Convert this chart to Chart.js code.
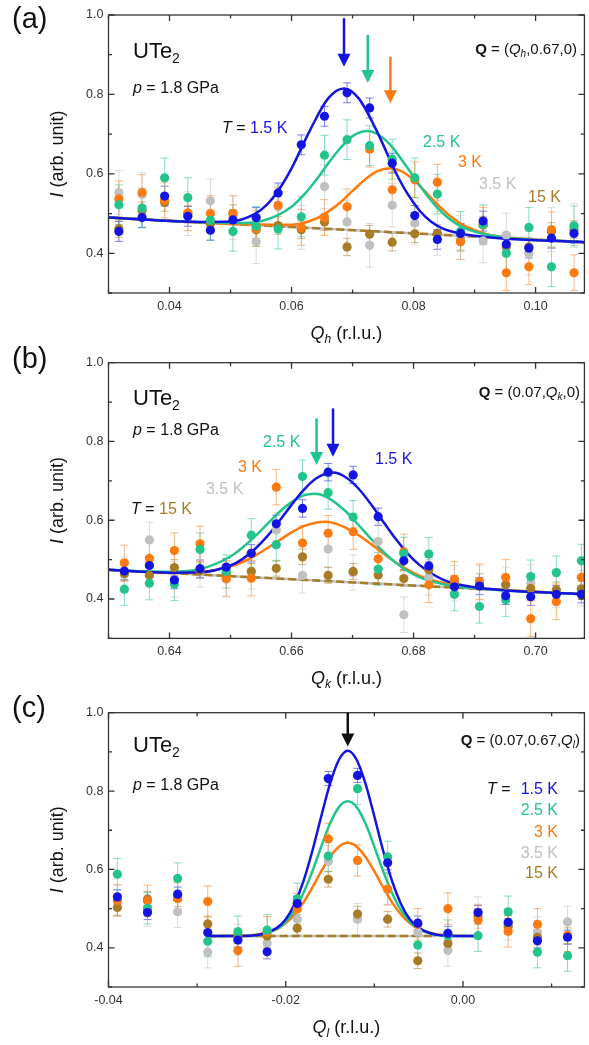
<!DOCTYPE html>
<html>
<head>
<meta charset="utf-8">
<script src="https://cdn.jsdelivr.net/npm/chart.js@4.4.0/dist/chart.umd.min.js"></script>
<style>
  html, body { margin: 0; padding: 0; background: #fff; }
  #wrap { position: relative; width: 589px; height: 1045px; }
  canvas { position: absolute; left: 0; }
</style>
</head>
<body>
<div id="wrap">
  <canvas id="chart-a" width="589" height="350" style="top:0px"></canvas>
  <canvas id="chart-b" width="589" height="352" style="top:340px"></canvas>
  <canvas id="chart-c" width="589" height="355" style="top:690px"></canvas>
</div>
<script>
/* ── series: 1.5 K, 2.5 K, 3 K, 3.5 K, 15 K ── */
const TEMPS  = ['1.5 K', '2.5 K', '3 K', '3.5 K', '15 K'];
const COLORS = ['#1414e2', '#22c48a', '#ff7a0e', '#c0c0c0', '#a87c24'];
const FONT   = '"Liberation Sans", Arial, sans-serif';

/* ── panel (a): Q = (Qh, 0.67, 0) ── */
const qhA     = [0.0317,0.0355,0.0392,0.0430,0.0467,0.0504,0.0542,0.0578,0.0616,0.0654,0.0691,0.0728,0.0765,0.0802,0.0839,0.0877,0.0914,0.0952,0.0989,0.1026,0.1063];
const blueA   = [0.455,0.490,0.544,0.493,0.458,0.484,0.490,0.552,0.673,0.745,0.804,0.766,0.627,0.495,0.435,0.450,0.481,0.423,0.413,0.438,0.450];
const greenA  = [0.522,0.514,0.590,0.540,0.483,0.455,0.468,0.461,0.492,0.647,0.686,0.671,0.637,0.590,0.549,0.455,0.472,0.400,0.465,0.366,0.469];
const orangeA = [0.537,0.553,0.534,0.502,0.500,0.500,0.462,0.521,0.465,0.490,0.517,0.662,0.560,0.585,0.579,0.429,0.471,0.351,0.366,0.459,0.351];
const greyA   = [0.553,0.548,0.534,0.500,0.532,0.490,0.429,0.517,0.465,0.568,0.479,0.420,0.521,0.476,0.450,0.440,0.431,0.446,0.400,0.460,0.470];
const brownA  = [0.462,0.507,0.528,0.498,0.474,0.500,0.459,0.470,0.459,0.479,0.416,0.448,0.428,0.449,0.450,0.430,0.471,0.416,0.416,0.455,0.460];
const errA    = [0.025, 0.050, 0.045, 0.055, 0.022];

const fitBlueAx   = [0.030,0.045,0.050,0.054,0.056,0.058,0.060,0.063,0.066,0.0686,0.071,0.074,0.077,0.079,0.081,0.083,0.085,0.090,0.108];
const fitBlueAy   = [0.490,0.479,0.480,0.499,0.523,0.562,0.614,0.709,0.790,0.815,0.790,0.707,0.606,0.550,0.507,0.478,0.461,0.444,0.428];
const fitGreenAx  = [0.030,0.045,0.052,0.056,0.060,0.062,0.064,0.066,0.068,0.070,0.0725,0.074,0.076,0.078,0.080,0.082,0.084,0.086,0.088,0.093,0.108];
const fitGreenAy  = [0.490,0.478,0.476,0.485,0.517,0.547,0.584,0.626,0.665,0.695,0.708,0.701,0.676,0.637,0.593,0.550,0.513,0.485,0.466,0.444,0.428];
const fitOrangeAx = [0.030,0.050,0.060,0.064,0.066,0.068,0.070,0.072,0.074,0.0762,0.078,0.080,0.082,0.084,0.086,0.088,0.092,0.096,0.108];
const fitOrangeAy = [0.490,0.474,0.472,0.487,0.505,0.528,0.557,0.585,0.606,0.614,0.607,0.585,0.554,0.522,0.494,0.472,0.448,0.439,0.428];
const fitBaseAx   = [0.030, 0.108];
const fitBaseAy   = [0.490, 0.428];

/* ── panel (b): Q = (0.07, Qk, 0) ── */
const qkB     = [0.6326,0.6367,0.6408,0.6450,0.6493,0.6534,0.6575,0.6618,0.6660,0.6701,0.6742,0.6784,0.6825,0.6867,0.6908,0.6951,0.6992,0.7034,0.7075];
const blueB   = [0.471,0.485,0.448,0.477,0.481,0.516,0.591,0.630,0.722,0.715,0.609,0.497,0.484,0.431,0.433,0.408,0.406,0.412,0.412];
const greenB  = [0.425,0.440,0.438,0.526,0.470,0.562,0.538,0.711,0.670,0.608,0.476,0.515,0.514,0.412,0.381,0.398,0.457,0.467,0.497];
const orangeB = [0.492,0.503,0.523,0.540,0.452,0.453,0.684,0.542,0.567,0.571,0.502,0.520,0.436,0.450,0.444,0.455,0.350,0.393,0.455];
const greyB   = [0.462,0.550,0.450,0.475,0.450,0.470,0.575,0.460,0.527,0.467,0.546,0.360,0.455,0.440,0.440,0.436,0.442,0.423,0.427];
const brownB  = [0.465,0.460,0.480,0.472,0.465,0.470,0.478,0.507,0.460,0.470,0.461,0.452,0.474,0.440,0.444,0.436,0.427,0.423,0.425];
const errB    = [0.022, 0.042, 0.045, 0.045, 0.020];

const fitBlueBx   = [0.630,0.640,0.645,0.650,0.652,0.654,0.656,0.658,0.660,0.662,0.664,0.6668,0.669,0.671,0.673,0.675,0.677,0.679,0.681,0.683,0.685,0.687,0.692,0.708];
const fitBlueBy   = [0.474,0.467,0.468,0.485,0.502,0.527,0.559,0.598,0.639,0.677,0.706,0.721,0.708,0.680,0.641,0.597,0.554,0.516,0.486,0.464,0.448,0.438,0.426,0.412];
const fitGreenBx  = [0.630,0.640,0.645,0.650,0.652,0.654,0.656,0.658,0.660,0.662,0.6638,0.666,0.669,0.671,0.673,0.675,0.677,0.679,0.681,0.686,0.692,0.708];
const fitGreenBy  = [0.474,0.469,0.476,0.508,0.531,0.559,0.590,0.621,0.646,0.663,0.667,0.657,0.621,0.588,0.553,0.521,0.493,0.471,0.455,0.434,0.425,0.412];
const fitOrangeBx = [0.630,0.640,0.645,0.650,0.652,0.654,0.656,0.658,0.660,0.662,0.6656,0.668,0.671,0.673,0.675,0.677,0.679,0.681,0.683,0.688,0.695,0.708];
const fitOrangeBy = [0.474,0.467,0.468,0.483,0.494,0.510,0.529,0.549,0.569,0.585,0.596,0.587,0.562,0.540,0.516,0.494,0.475,0.459,0.448,0.432,0.423,0.412];
const fitBaseBx   = [0.630, 0.708];
const fitBaseBy   = [0.474, 0.412];

/* ── panel (c): Q = (0.07, 0.67, Ql) ── */
const qlC     = [-0.0390,-0.0356,-0.0322,-0.0288,-0.0254,-0.0221,-0.0187,-0.0152,-0.0119,-0.0085,-0.0051,-0.0017,0.0017,0.0051,0.0084,0.0118];
const blueC   = [0.530,0.490,0.537,0.439,0.420,0.390,0.513,0.832,0.840,0.617,0.463,0.437,0.490,0.465,0.418,0.427];
const greenC  = [0.588,0.501,0.577,0.417,0.441,0.445,0.525,0.634,0.806,0.632,0.407,0.431,0.431,0.492,0.389,0.380];
const orangeC = [0.521,0.520,0.526,0.518,0.393,0.440,0.499,0.678,0.623,0.550,0.460,0.500,0.471,0.442,0.460,0.431];
const greyC   = [0.520,0.495,0.492,0.389,0.420,0.412,0.473,0.621,0.473,0.549,0.440,0.393,0.490,0.460,0.439,0.466];
const brownC  = [0.503,0.524,0.526,0.461,0.430,0.430,0.450,0.575,0.486,0.473,0.367,0.411,0.480,0.455,0.427,0.431];
const errC    = [0.018, 0.040, 0.040, 0.040, 0.020];

const fitCx       = [-0.0288,-0.024,-0.021,-0.020,-0.019,-0.018,-0.017,-0.016,-0.015,-0.014,-0.013,-0.012,-0.011,-0.010,-0.009,-0.008,-0.007,-0.006,-0.005,-0.002,0.0017];
const fitBlueCy   = [0.430,0.431,0.451,0.473,0.512,0.570,0.647,0.735,0.819,0.880,0.903,0.880,0.819,0.735,0.647,0.570,0.512,0.473,0.451,0.431,0.430];
const fitGreenCy  = [0.430,0.431,0.448,0.467,0.496,0.540,0.595,0.658,0.717,0.759,0.774,0.759,0.717,0.658,0.595,0.540,0.496,0.467,0.448,0.431,0.430];
const fitOrangeCy = [0.430,0.432,0.448,0.463,0.485,0.516,0.554,0.595,0.632,0.658,0.668,0.658,0.632,0.595,0.554,0.516,0.485,0.463,0.448,0.432,0.430];
const fitBaseCx   = [-0.0288, -0.003];
const fitBaseCy   = [0.430, 0.430];

/* ── helpers ── */
function rgba(hex, a) {
    const n = parseInt(hex.slice(1), 16);
    return `rgba(${n >> 16},${(n >> 8) & 255},${n & 255},${a})`;
}
function pts(xs, ys) { return xs.map((x, i) => ({ x, y: ys[i] })); }

// draws a run of differently styled pieces: [text, font, color, dy]
function rich(ctx, x, y, parts, align) {
    let w = 0;
    parts.forEach(p => { ctx.font = p[1]; w += ctx.measureText(p[0]).width; });
    let cx = align === 'right' ? x - w : align === 'center' ? x - w / 2 : x;
    ctx.textAlign = 'left';
    ctx.textBaseline = 'alphabetic';
    parts.forEach(p => {
        ctx.font = p[1];
        ctx.fillStyle = p[2];
        ctx.fillText(p[0], cx, y + (p[3] || 0));
        cx += ctx.measureText(p[0]).width;
    });
}
const f  = (s, st) => `${st || ''} ${s}px ${FONT}`;
const K  = '#111';

const errorBars = {
    id: 'errorBars',
    beforeDatasetsDraw(chart) {
        const ctx = chart.ctx, ys = chart.scales.y;
        chart.data.datasets.forEach((ds, i) => {
            if (ds.err == null) return;
            const meta = chart.getDatasetMeta(i);
            ctx.save();
            ctx.strokeStyle = rgba(ds.baseColor, 0.55);
            ctx.lineWidth = 1;
            meta.data.forEach((el, j) => {
                const v = ds.data[j].y;
                const t = ys.getPixelForValue(v + ds.err), b = ys.getPixelForValue(v - ds.err);
                ctx.beginPath();
                ctx.moveTo(el.x, t); ctx.lineTo(el.x, b);
                ctx.moveTo(el.x - 4, t); ctx.lineTo(el.x + 4, t);
                ctx.moveTo(el.x - 4, b); ctx.lineTo(el.x + 4, b);
                ctx.stroke();
            });
            ctx.restore();
        });
    }
};

const frameTicks = {
    id: 'frameTicks',
    afterDatasetsDraw(chart) {
        const ctx = chart.ctx, a = chart.chartArea;
        const xs = chart.scales.x, ys = chart.scales.y;
        ctx.save();
        ctx.strokeStyle = '#333';
        ctx.lineWidth = 1.3;
        ctx.strokeRect(a.left, a.top, a.right - a.left, a.bottom - a.top);
        ctx.beginPath();
        xs.ticks.forEach(t => {
            const px = xs.getPixelForValue(t.value);
            const L = t.label ? 6 : 3.5;
            ctx.moveTo(px, a.bottom); ctx.lineTo(px, a.bottom - L);
            ctx.moveTo(px, a.top); ctx.lineTo(px, a.top + L);
        });
        ys.ticks.forEach(t => {
            const py = ys.getPixelForValue(t.value);
            const L = t.label ? 6 : 3.5;
            ctx.moveTo(a.left, py); ctx.lineTo(a.left + L, py);
            ctx.moveTo(a.right, py); ctx.lineTo(a.right - L, py);
        });
        ctx.stroke();
        ctx.restore();
    }
};

function arrowsPlugin(list) {
    return {
        id: 'arrows',
        afterDatasetsDraw(chart) {
            const ctx = chart.ctx, xs = chart.scales.x, ys = chart.scales.y;
            list.forEach(ar => {
                const px = xs.getPixelForValue(ar.x);
                const top = ys.getPixelForValue(ar.top), tip = ys.getPixelForValue(ar.tip);
                ctx.save();
                ctx.strokeStyle = ar.color; ctx.fillStyle = ar.color;
                ctx.lineWidth = 2.5;
                ctx.beginPath(); ctx.moveTo(px, top); ctx.lineTo(px, tip - 10); ctx.stroke();
                ctx.beginPath();
                ctx.moveTo(px - 6.5, tip - 13); ctx.lineTo(px + 6.5, tip - 13); ctx.lineTo(px, tip);
                ctx.closePath(); ctx.fill();
                ctx.restore();
            });
        }
    };
}

function textPlugin(draw) {
    return { id: 'texts', afterDraw(chart) { const ctx = chart.ctx; ctx.save(); draw(ctx, chart); ctx.restore(); } };
}

function axisTitles(ctx, chart, sub) {
    const a = chart.chartArea;
    ctx.save();
    ctx.translate(63, (a.top + a.bottom) / 2 + 0);
    ctx.rotate(-Math.PI / 2);
    rich(ctx, 0, 0, [['I', f(18, 'italic'), K], [' (arb. unit)', f(18), K]], 'center');
    ctx.restore();
    rich(ctx, (a.left + a.right) / 2, a.bottom + 46,
        [['Q', f(18, 'italic'), K], [sub, f(12, 'italic'), K, 4], [' (r.l.u.)', f(18), K]], 'center');
}

function makePanel(id, p) {
    const vals = [p.blue, p.green, p.orange, p.grey, p.brown];
    const drawOrder = [1, 2, 3, 5, 4];
    const datasets = vals.map((v, i) => ({
        data: pts(p.q, v),
        err: p.err[i],
        baseColor: COLORS[i],
        backgroundColor: COLORS[i],
        borderWidth: 0,
        pointRadius: 4.6,
        order: drawOrder[i],
    }));
    const lineDs = (xs, ys, color, ord, dash) => ({
        data: pts(xs, ys),
        showLine: true,
        borderColor: color,
        borderWidth: 2.5,
        borderDash: dash || [],
        pointRadius: 0,
        cubicInterpolationMode: 'monotone',
        order: ord,
    });
    datasets.push(lineDs(p.fitBlue[0],   p.fitBlue[1],   COLORS[0], 6));
    datasets.push(lineDs(p.fitGreen[0],  p.fitGreen[1],  COLORS[1], 7));
    datasets.push(lineDs(p.fitOrange[0], p.fitOrange[1], COLORS[2], 8));
    datasets.push(lineDs(p.fitBase[0],   p.fitBase[1],   COLORS[4], 9, [8, 4]));
    datasets.push(lineDs(p.fitBase[0],   p.fitBase[1],   COLORS[3], 10));

    const H = document.getElementById(id).height;
    return new Chart(document.getElementById(id), {
        type: 'scatter',
        data: { datasets },
        options: {
            responsive: false,
            animation: false,
            layout: { padding: { top: p.frameTop, right: 4, left: 0, bottom: 0 } },
            plugins: { legend: { display: false }, tooltip: { enabled: false } },
            scales: {
                x: {
                    min: p.xMin, max: p.xMax,
                    grid: { display: false, drawTicks: false },
                    border: { display: false },
                    ticks: {
                        stepSize: 0.01, includeBounds: false, autoSkip: false, maxRotation: 0,
                        padding: 6, color: '#333', font: { family: FONT, size: 12.5 },
                        callback: v => { const k = Math.round(v * 100); return k % 2 === 0 ? (k / 100).toFixed(2) : ''; }
                    },
                    afterFit: s => { s.height = H - p.frameBottom; }
                },
                y: {
                    min: 0.3, max: 1.0,
                    grid: { display: false, drawTicks: false },
                    border: { display: false },
                    ticks: {
                        stepSize: 0.1, autoSkip: false, padding: 5, color: '#333',
                        font: { family: FONT, size: 12.5 },
                        callback: v => { const k = Math.round(v * 10); return (k % 2 === 0 && k >= 4) ? (k / 10).toFixed(1) : ''; }
                    },
                    afterFit: s => { s.width = 108.5; }
                }
            }
        },
        plugins: [errorBars, frameTicks, arrowsPlugin(p.arrows), textPlugin(p.texts)]
    });
}

function header(ctx, letter, yLetter, yUte, yP) {
    rich(ctx, 12, yLetter, [[letter, f(29), K]]);
    rich(ctx, 133, yUte, [['UTe', f(22), K], ['2', f(14), K, 5]]);
    rich(ctx, 133, yP, [['p', f(16, 'italic'), K], [' = 1.8 GPa', f(16), K]]);
}

makePanel('chart-a', {
    q: qhA, blue: blueA, green: greenA, orange: orangeA, grey: greyA, brown: brownA, err: errA,
    fitBlue: [fitBlueAx, fitBlueAy], fitGreen: [fitGreenAx, fitGreenAy],
    fitOrange: [fitOrangeAx, fitOrangeAy], fitBase: [fitBaseAx, fitBaseAy],
    xMin: 0.030, xMax: 0.108, frameTop: 15, frameBottom: 293,
    arrows: [
        { x: 0.0686, top: 0.992, tip: 0.870, color: COLORS[0] },
        { x: 0.0725, top: 0.950, tip: 0.829, color: COLORS[1] },
        { x: 0.0762, top: 0.895, tip: 0.778, color: COLORS[2] },
    ],
    texts: (ctx, chart) => {
        header(ctx, '(a)', 28, 58, 93);
        rich(ctx, 577, 54, [['Q', f(15, 'bold'), K], [' = (', f(15), K], ['Q', f(15, 'italic'), K],
            ['h', f(10, 'italic'), K, 3], [',0.67,0)', f(15), K]], 'right');
        rich(ctx, 222, 133, [['T', f(16, 'italic'), K], [' = ', f(16), K], [TEMPS[0], f(16), COLORS[0]]]);
        rich(ctx, 423, 147, [[TEMPS[1], f(16), COLORS[1]]]);
        rich(ctx, 458, 167, [[TEMPS[2], f(16), COLORS[2]]]);
        rich(ctx, 479, 189, [[TEMPS[3], f(16), COLORS[3]]]);
        rich(ctx, 528, 202, [[TEMPS[4], f(16), COLORS[4]]]);
        axisTitles(ctx, chart, 'h');
    }
});

makePanel('chart-b', {
    q: qkB, blue: blueB, green: greenB, orange: orangeB, grey: greyB, brown: brownB, err: errB,
    fitBlue: [fitBlueBx, fitBlueBy], fitGreen: [fitGreenBx, fitGreenBy],
    fitOrange: [fitOrangeBx, fitOrangeBy], fitBase: [fitBaseBx, fitBaseBy],
    xMin: 0.630, xMax: 0.708, frameTop: 22.7, frameBottom: 298.4,
    arrows: [
        { x: 0.6641, top: 0.859, tip: 0.740, color: COLORS[1] },
        { x: 0.6668, top: 0.884, tip: 0.761, color: COLORS[0] },
    ],
    texts: (ctx, chart) => {
        header(ctx, '(b)', 28, 65, 95);
        rich(ctx, 580, 57, [['Q', f(15, 'bold'), K], [' = (0.07,', f(15), K], ['Q', f(15, 'italic'), K],
            ['k', f(10, 'italic'), K, 3], [',0)', f(15), K]], 'right');
        rich(ctx, 263, 107, [[TEMPS[1], f(16), COLORS[1]]]);
        rich(ctx, 238, 132, [[TEMPS[2], f(16), COLORS[2]]]);
        rich(ctx, 206, 154, [[TEMPS[3], f(16), COLORS[3]]]);
        rich(ctx, 131, 174, [['T', f(16, 'italic'), K], [' = ', f(16), K], [TEMPS[4], f(16), COLORS[4]]]);
        rich(ctx, 375, 124, [[TEMPS[0], f(16), COLORS[0]]]);
        axisTitles(ctx, chart, 'k');
    }
});

makePanel('chart-c', {
    q: qlC, blue: blueC, green: greenC, orange: orangeC, grey: greyC, brown: brownC, err: errC,
    fitBlue: [fitCx, fitBlueCy], fitGreen: [fitCx, fitGreenCy],
    fitOrange: [fitCx, fitOrangeCy], fitBase: [fitBaseCx, fitBaseCy],
    xMin: -0.040, xMax: 0.0137, frameTop: 22.7, frameBottom: 297,
    arrows: [
        { x: -0.0130, top: 1.0, tip: 0.914, color: '#111' },
    ],
    texts: (ctx, chart) => {
        header(ctx, '(c)', 27, 62, 100);
        rich(ctx, 580, 55, [['Q', f(15, 'bold'), K], [' = (0.07,0.67,', f(15), K], ['Q', f(15, 'italic'), K],
            ['l', f(10, 'italic'), K, 3], [')', f(15), K]], 'right');
        rich(ctx, 487, 104, [['T', f(16, 'italic'), K], [' =', f(16), K]]);
        rich(ctx, 558, 104, [[TEMPS[0], f(16), COLORS[0]]], 'right');
        rich(ctx, 558, 125, [[TEMPS[1], f(16), COLORS[1]]], 'right');
        rich(ctx, 558, 147, [[TEMPS[2], f(16), COLORS[2]]], 'right');
        rich(ctx, 558, 168, [[TEMPS[3], f(16), COLORS[3]]], 'right');
        rich(ctx, 558, 188, [[TEMPS[4], f(16), COLORS[4]]], 'right');
        axisTitles(ctx, chart, 'l');
    }
});
</script>
</body>
</html>
